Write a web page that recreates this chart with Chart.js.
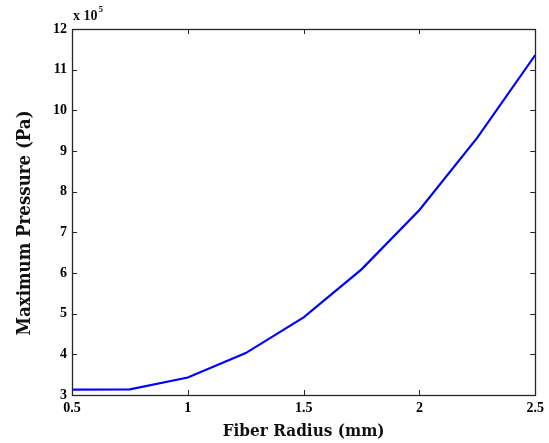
<!DOCTYPE html>
<html>
<head>
<meta charset="utf-8">
<script src="https://cdn.jsdelivr.net/npm/chart.js@4/dist/chart.umd.min.js"></script>
<style>
  html, body { margin: 0; padding: 0; background: #fff; }
  #wrap { width: 549px; height: 443px; }
</style>
</head>
<body>
<div id="wrap"><canvas id="c" width="549" height="443"></canvas></div>
<script>
// Fiber radius (mm) and the resulting maximum pressure (Pa)
const radiusMm = [0.5, 0.75, 1.0, 1.25, 1.5, 1.75, 2.0, 2.25, 2.5];
const maxPressurePa = [313000, 314000, 343000, 403000, 491000, 609000, 755000, 933000, 1136000];

// Axis ranges and the exponent shown above the pressure axis
const xTicks = [0.5, 1, 1.5, 2, 2.5];
const yTicksScaled = [3, 4, 5, 6, 7, 8, 9, 10, 11, 12];
const yExponent = 5;
const xTitle = 'Fiber Radius (mm)';
const yTitle = 'Maximum Pressure (Pa)';

const tickFont = { family: 'Liberation Serif', size: 14, weight: 'bold' };
const titleFont = { family: 'DejaVu Serif Condensed', size: 17, weight: 'bold' };
const axisColor = '#262626';

// Boxed axes with inward tick marks on all four sides, the "x 10^5" multiplier
// and the rotated pressure-axis title
const boxAxes = {
  id: 'boxAxes',
  beforeDatasetsDraw(chart) {
    const { ctx, chartArea: a, scales: { x, y } } = chart;
    const len = 5;
    ctx.save();
    ctx.strokeStyle = axisColor;
    ctx.lineWidth = 1;
    ctx.beginPath();
    x.ticks.forEach(t => {
      const px = Math.round(x.getPixelForValue(t.value)) + 0.5;
      ctx.moveTo(px, a.bottom); ctx.lineTo(px, a.bottom - len);
      ctx.moveTo(px, a.top); ctx.lineTo(px, a.top + len);
    });
    y.ticks.forEach(t => {
      const py = Math.round(y.getPixelForValue(t.value)) + 0.5;
      ctx.moveTo(a.left, py); ctx.lineTo(a.left + len, py);
      ctx.moveTo(a.right, py); ctx.lineTo(a.right - len, py);
    });
    ctx.stroke();
    ctx.restore();
  },
  afterDraw(chart) {
    const { ctx, chartArea: a } = chart;
    ctx.save();
    ctx.strokeStyle = axisColor;
    ctx.lineWidth = 1.3;
    ctx.strokeRect(Math.round(a.left) + 0.5, Math.round(a.top) + 0.5,
                   Math.round(a.right - a.left), Math.round(a.bottom - a.top));

    // exponent label
    ctx.fillStyle = '#111';
    ctx.textBaseline = 'alphabetic';
    ctx.textAlign = 'left';
    ctx.font = 'bold 14px "Liberation Serif"';
    const base = 'x 10';
    ctx.fillText(base, a.left + 1, a.top - 9);
    const w = ctx.measureText(base).width;
    ctx.font = 'bold 9px "Liberation Serif"';
    ctx.fillText(String(yExponent), a.left + 2 + w, a.top - 17);

    // pressure-axis title
    ctx.translate(25, 223);
    ctx.rotate(-Math.PI / 2);
    ctx.textAlign = 'center';
    ctx.textBaseline = 'middle';
    ctx.font = 'bold 18.5px "DejaVu Serif Condensed"';
    ctx.fillText(yTitle, 0, 0);
    ctx.restore();
  }
};

new Chart(document.getElementById('c'), {
  type: 'line',
  data: {
    datasets: [{
      data: radiusMm.map((r, i) => ({ x: r, y: maxPressurePa[i] })),
      borderColor: '#0000ff',
      borderWidth: 2.2,
      pointRadius: 0,
      tension: 0,
      fill: false
    }]
  },
  options: {
    responsive: false,
    animation: false,
    devicePixelRatio: 1,
    layout: { padding: { top: 29, right: 13, left: 0, bottom: 0 } },
    plugins: { legend: { display: false }, tooltip: { enabled: false } },
    scales: {
      x: {
        type: 'linear',
        min: xTicks[0],
        max: xTicks[xTicks.length - 1],
        afterBuildTicks(scale) { scale.ticks = xTicks.map(v => ({ value: v })); },
        afterFit(scale) { scale.height = 48; },
        grid: { display: false, drawTicks: false },
        border: { display: false },
        ticks: { font: tickFont, color: '#000', padding: 5, maxRotation: 0,
                 callback: v => String(v) },
        title: { display: true, text: xTitle, font: titleFont, color: '#111',
                 padding: { top: 0, bottom: 1 } }
      },
      y: {
        type: 'linear',
        min: yTicksScaled[0] * Math.pow(10, yExponent),
        max: yTicksScaled[yTicksScaled.length - 1] * Math.pow(10, yExponent),
        afterBuildTicks(scale) {
          scale.ticks = yTicksScaled.map(v => ({ value: v * Math.pow(10, yExponent) }));
        },
        afterFit(scale) { scale.width = 72; },
        grid: { display: false, drawTicks: false },
        border: { display: false },
        ticks: { font: tickFont, color: '#000', padding: 5,
                 callback: v => String(Math.round(v / Math.pow(10, yExponent))) },
        title: { display: false }
      }
    }
  },
  plugins: [boxAxes]
});
</script>
</body>
</html>
